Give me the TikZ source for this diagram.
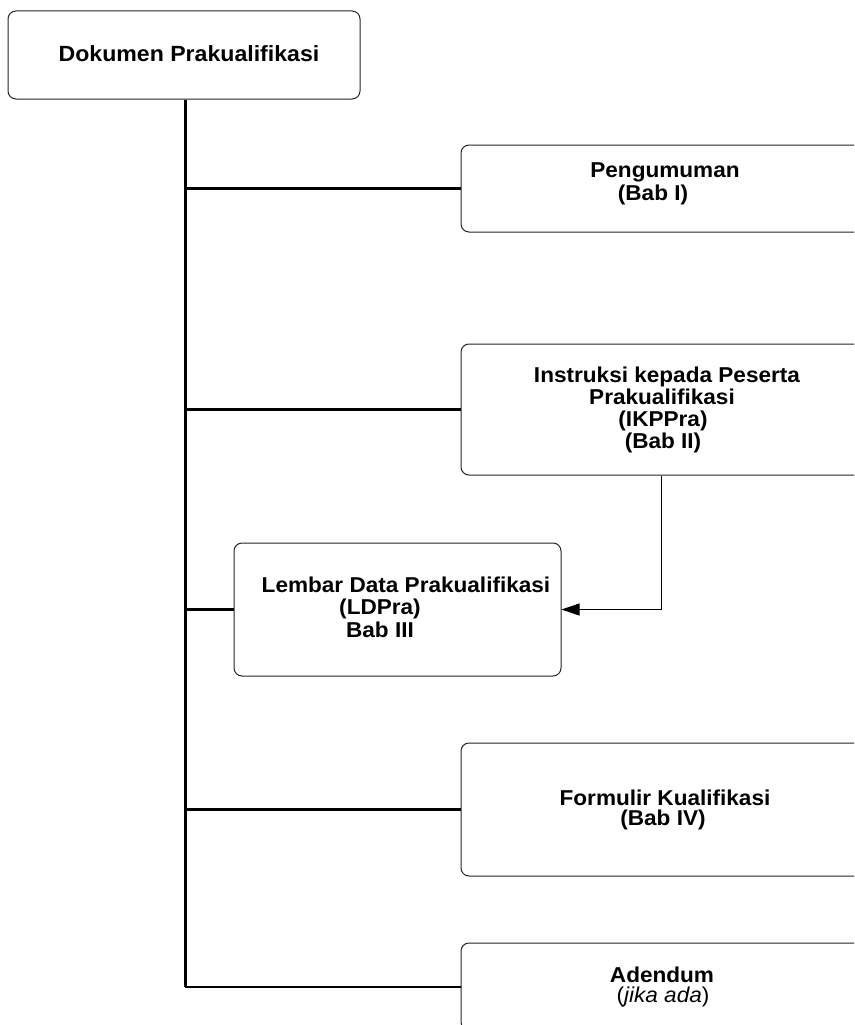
\documentclass[tikz,border=0pt]{standalone}
\usepackage{fontspec}
\setmainfont{Liberation Sans}[FakeStretch=1.05]
\usetikzlibrary{arrows.meta}
\begin{document}
\begin{tikzpicture}[x=1pt,y=-1pt,
  box/.style={draw=black!85, line width=1pt, rounded corners=8pt, fill=white, inner sep=0pt},
  txt/.style={anchor=base, inner sep=0pt, font=\fontsize{21.5}{22}\selectfont\bfseries},
  ttl/.style={anchor=base, inner sep=0pt, font=\fontsize{22}{24}\selectfont\bfseries},
  trunk/.style={line width=3pt},
  branch/.style={line width=2.6pt},
  link/.style={line width=0.9pt, -{Triangle[length=18pt,width=12pt]}}
]
\useasboundingbox (0,0) rectangle (854,1025);
\clip (0,0) rectangle (854,1025);
% boxes
\node[box, minimum width=352pt, minimum height=88pt] (top) at (184,55) {};
\node[box, minimum width=410pt, minimum height=87pt] (pen) at (666,188.5) {};
\node[box, minimum width=410pt, minimum height=131pt] (ikp) at (666,409.5) {};
\node[box, minimum width=327pt, minimum height=133pt] (ld) at (397.5,609.5) {};
\node[box, minimum width=410pt, minimum height=133pt] (for) at (666,809.5) {};
\node[box, minimum width=410pt, minimum height=87pt] (ade) at (666,986.5) {};
% connectors
\coordinate (tend) at (185,987);
\coordinate (cx) at (661,0);
\draw[trunk] (tend |- top.south) -- (tend);
\draw[branch] (tend |- pen.west) -- (pen.west);
\draw[branch] (tend |- ikp.west) -- (ikp.west);
\draw[branch] (tend |- ld.west) -- (ld.west);
\draw[branch] (tend |- for.west) -- (for.west);
\draw[branch] (tend) -- (tend -| ade.west);
\draw[link] (cx |- ikp.south) |- (ld.east);
% texts
\node[ttl] (t0) at (189,62) {Dokumen Prakualifikasi};
\node[txt] (t1a) at (665,177) {Pengumuman};
\node[txt] (t1b) at (653,200) {(Bab I)};
\node[txt] (t2a) at (667,382) {Instruksi kepada Peserta};
\node[txt] (t2b) at (662,404) {Prakualifikasi};
\node[txt] (t2c) at (663,426) {(IKPPra)};
\node[txt] (t2d) at (663,448) {(Bab II)};
\node[txt] (t3a) at (406,592) {Lembar Data Prakualifikasi};
\node[txt] (t3b) at (380,614) {(LDPra)};
\node[txt] (t3c) at (380,637) {Bab III};
\node[txt] (t4a) at (665,805) {Formulir Kualifikasi};
\node[txt] (t4b) at (663,825) {(Bab IV)};
\node[txt] (t5a) at (662,982) {Adendum};
\node[txt, font=\fontsize{21.5}{22}\selectfont\mdseries] (t5b) at (663,1002) {(\textit{jika ada})};
\end{tikzpicture}
\end{document}
